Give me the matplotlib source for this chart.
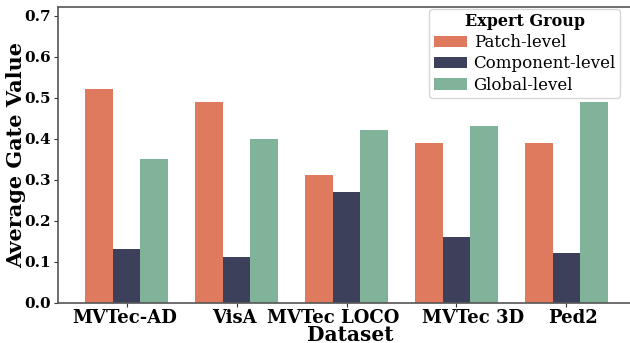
import matplotlib
matplotlib.use("Agg")
import matplotlib.pyplot as plt
import matplotlib.transforms as mtransforms
import numpy as np

datasets = ["MVTec-AD", "VisA", "MVTec LOCO", "MVTec 3D", "Ped2"]
patch = [0.52, 0.49, 0.31, 0.39, 0.39]
component = [0.13, 0.11, 0.27, 0.16, 0.12]
global_ = [0.35, 0.40, 0.42, 0.43, 0.49]
series_names = ["Patch-level", "Component-level", "Global-level"]
colors = ["#E07A5F", "#3D405B", "#81B29A"]

plt.rcParams['font.family'] = ['DejaVu Serif']

fig = plt.figure(figsize=(6.3, 3.43), dpi=100)
ax = fig.add_axes([58/630, 1 - 302.5/343, (635-58)/630, (302.5-6.7)/343])

x = np.arange(len(datasets))
w = 0.25
for i, (vals, name, c) in enumerate(zip([patch, component, global_], series_names, colors)):
    ax.bar(x + (i - 1) * w, vals, width=w, color=c, label=name)

ax.set_xlim(-0.623, 4.623)
ax.set_ylim(0, 0.722)
ax.set_xticks(x)
ax.set_xticklabels(datasets, fontsize=13, fontweight='bold')
ax.set_yticks(np.arange(0, 0.71, 0.1))
ax.set_yticklabels([f"{v:.1f}" for v in np.arange(0, 0.71, 0.1)], fontsize=11, fontweight='bold')
ax.tick_params(axis='both', length=3, width=0.8, color='#333333', pad=2)

# label offsets (pixels) to mimic reference placement
offsets_px = [-1.5, -2.5, -13.5, 17, 7]
for lab, dx in zip(ax.get_xticklabels(), offsets_px):
    lab.set_transform(lab.get_transform() + mtransforms.ScaledTranslation(dx / 100, 0, fig.dpi_scale_trans))

ax.set_xlabel("Dataset", fontsize=14.5, fontweight='bold')
ax.xaxis.set_label_coords((350.5 - 58) / (635 - 58), -0.0745)
ax.xaxis.label.set_va('top')
ax.set_ylabel("Average Gate Value", fontsize=15, fontweight='bold', labelpad=-1.5)
for s in ax.spines.values():
    s.set_color('#555555')
    s.set_linewidth(1.2)

leg = ax.legend(title="Expert Group", fontsize=12, title_fontproperties={'weight': 'bold', 'size': 11.5},
                loc='upper right', bbox_to_anchor=((620 - 58) / 577, 1 - 2.3 / 296), frameon=True,
                handlelength=2, borderpad=0.25, labelspacing=0.25, handletextpad=0.4, borderaxespad=0)
leg.get_frame().set_edgecolor('#cccccc')

fig.savefig("out.png", dpi=100)
